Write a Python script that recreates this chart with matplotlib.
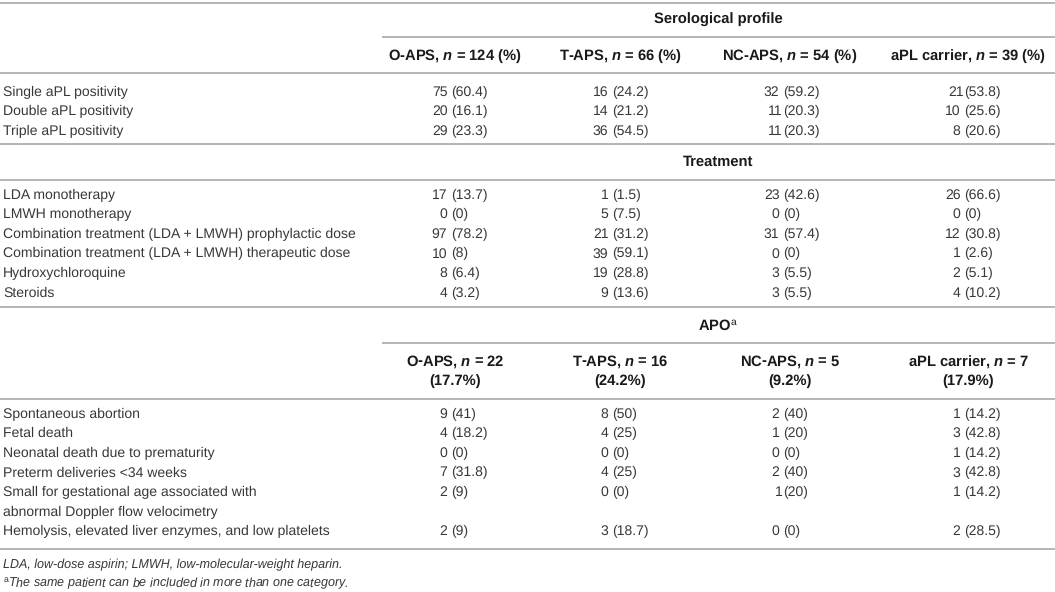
import matplotlib
matplotlib.use("Agg")
import matplotlib.pyplot as plt

plt.rcParams['font.family'] = ['Liberation Sans', 'DejaVu Sans']
plt.rcParams['mathtext.fontset'] = 'custom'
plt.rcParams['mathtext.rm'] = 'Liberation Sans'
plt.rcParams['mathtext.it'] = 'Liberation Sans:italic:bold'
plt.rcParams['mathtext.bf'] = 'Liberation Sans:bold'
plt.rcParams['text.hinting'] = 'no_hinting'

# table content
section_titles = ["Serological profile", "Treatment", "APO$^{\\mathrm{a}}$"]

sero_headers = ["O-APS, $n$ = 124 (%)", "T-APS, $n$ = 66 (%)",
                "NC-APS, $n$ = 54 (%)", "aPL carrier, $n$ = 39 (%)"]
sero_rows = ["Single aPL positivity", "Double aPL positivity", "Triple aPL positivity"]
sero_oaps = ["75 (60.4)", "20 (16.1)", "29 (23.3)"]
sero_taps = ["16 (24.2)", "14 (21.2)", "36 (54.5)"]
sero_ncaps = ["32 (59.2)", "11(20.3)", "11(20.3)"]
sero_carrier = ["21(53.8)", "10 (25.6)", "8 (20.6)"]

treat_rows = ["LDA monotherapy", "LMWH monotherapy",
              "Combination treatment (LDA + LMWH) prophylactic dose",
              "Combination treatment (LDA + LMWH) therapeutic dose",
              "Hydroxychloroquine", "Steroids"]
treat_oaps = ["17 (13.7)", "0 (0)", "97 (78.2)", "10 (8)", "8 (6.4)", "4 (3.2)"]
treat_taps = ["1 (1.5)", "5 (7.5)", "21 (31.2)", "39 (59.1)", "19 (28.8)", "9 (13.6)"]
treat_ncaps = ["23 (42.6)", "0 (0)", "31 (57.4)", "0 (0)", "3 (5.5)", "3 (5.5)"]
treat_carrier = ["26 (66.6)", "0 (0)", "12 (30.8)", "1 (2.6)", "2 (5.1)", "4 (10.2)"]

apo_headers_1 = ["O-APS, $n$ = 22", "T-APS, $n$ = 16",
                 "NC-APS, $n$ = 5", "aPL carrier, $n$ = 7"]
apo_headers_2 = ["(17.7%)", "(24.2%)", "(9.2%)", "(17.9%)"]
apo_rows = ["Spontaneous abortion", "Fetal death", "Neonatal death due to prematurity",
            "Preterm deliveries <34 weeks",
            "Small for gestational age associated with\nabnormal Doppler flow velocimetry",
            "Hemolysis, elevated liver enzymes, and low platelets"]
apo_oaps = ["9 (41)", "4 (18.2)", "0 (0)", "7 (31.8)", "2 (9)", "2 (9)"]
apo_taps = ["8 (50)", "4 (25)", "0 (0)", "4 (25)", "0 (0)", "3 (18.7)"]
apo_ncaps = ["2 (40)", "1 (20)", "0 (0)", "2 (40)", "1(20)", "0 (0)"]
apo_carrier = ["1 (14.2)", "3 (42.8)", "1 (14.2)", "3 (42.8)", "1 (14.2)", "2 (28.5)"]

footnotes = ["LDA, low-dose aspirin; LMWH, low-molecular-weight heparin.",
             "$^{\\mathrm{a}}$The same patient can be included in more than one category."]

# layout (pixels)
W, H = 1055, 592
FS = 10.1
FS_HDR = 10.6
TXT = '#383838'
HDR = '#1a1a1a'
LINE = '#a0a0a0'
col_centers = [455, 620, 790, 968]
col_anchor = [451, 612, 783, 964]
group_x0 = 382
group_mid = 718
step = 19.6

fig = plt.figure(figsize=(W / 100, H / 100), dpi=100)
ax = fig.add_axes([0, 0, 1, 1])
ax.set_xlim(0, W)
ax.set_ylim(H, 0)
ax.axis('off')


def hline(y, x0=0):
    ax.plot([x0, W], [y, y], color=LINE, lw=1.1, solid_capstyle='butt')


def cell(x, y, s):
    # align on the opening bracket
    i = s.index('(')
    cnt, rest = s[:i], s[i:]
    gap = 3.6 if cnt.endswith(' ') else 0.4
    ax.text(x - gap, y, cnt.strip(), ha='right', va='center', fontsize=FS, color=TXT)
    ax.text(x, y, rest, ha='left', va='center', fontsize=FS, color=TXT)


def block(y0, labels, cols):
    y = y0
    for r, lab in enumerate(labels):
        lines = lab.split('\n')
        for k, ln in enumerate(lines):
            ax.text(3, y + k * step, ln, ha='left', va='center', fontsize=FS, color=TXT)
        for c, vals in enumerate(cols):
            cell(col_anchor[c], y, vals[r])
        y += step * len(lines)


def bold(x, y, s):
    ax.text(x, y, s, ha='center', va='center', fontsize=FS_HDR,
            fontweight='bold', color=HDR)


# section 1
hline(2.5)
bold(group_mid, 20, section_titles[0])
hline(37, group_x0)
for c, h in enumerate(sero_headers):
    bold(col_centers[c], 56, h)
hline(73)
block(92, sero_rows, [sero_oaps, sero_taps, sero_ncaps, sero_carrier])

# section 2
hline(144)
bold(group_mid, 162, section_titles[1])
hline(180)
block(195, treat_rows, [treat_oaps, treat_taps, treat_ncaps, treat_carrier])

# section 3
hline(307)
bold(group_mid, 326, section_titles[2])
hline(343, group_x0)
for c in range(4):
    bold(col_centers[c], 362, apo_headers_1[c])
    bold(col_centers[c], 381, apo_headers_2[c])
hline(399)
block(414, apo_rows, [apo_oaps, apo_taps, apo_ncaps, apo_carrier])
hline(549)

ax.text(3, 565, footnotes[0], ha='left', va='center', fontsize=9.0,
        style='italic', color=TXT)
ax.text(3, 584, footnotes[1], ha='left', va='center', fontsize=9.0,
        style='italic', color=TXT)

fig.savefig('out.png', dpi=100)
